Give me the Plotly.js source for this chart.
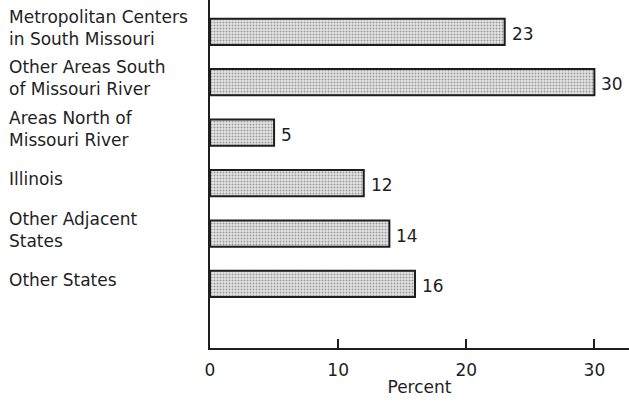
<!DOCTYPE html>
<html>
<head>
<meta charset="utf-8">
<script src="https://cdn.plot.ly/plotly-3.0.1.min.js"></script>
<style>html,body{margin:0;padding:0;background:#fff}#chart{width:629px;height:402px}</style>
</head>
<body>
<div id="chart"></div>
<script>
const categories = [
  "Metropolitan Centers<br>in South Missouri",
  "Other Areas South<br>of Missouri River",
  "Areas North of<br>Missouri River",
  "Illinois",
  "Other Adjacent<br>States",
  "Other States"
];
const values = [23, 30, 5, 12, 14, 16];
const tickValues = [0, 10, 20, 30];
const tickLabels = ["0", "10", "20", "30"];
const xTitle = "Percent";

const FONT = "'DejaVu Sans', sans-serif";
const INK = "#1e1e1e";

const trace = {
  type: "bar",
  orientation: "h",
  x: values,
  y: categories,
  width: 0.52,
  marker: {
    color: "#dcdcdc",
    line: {color: INK, width: 2},
    pattern: {shape: ".", size: 3, solidity: 0.35, fgcolor: "#9a9a9a", bgcolor: "#e6e6e6"}
  },
  hoverinfo: "skip"
};

const annotations = [];
categories.forEach((c, i) => {
  annotations.push({
    xref: "paper", yref: "y", x: -203/419, y: c,
    text: c, showarrow: false, xanchor: "left", yanchor: "middle", align: "left",
    yshift: 4, font: {family: FONT, size: 17, color: INK}
  });
  annotations.push({
    xref: "x", yref: "y", x: values[i], y: c,
    text: String(values[i]), showarrow: false, xanchor: "left", yanchor: "middle",
    xshift: 5, yshift: -2, font: {family: FONT, size: 17, color: INK}
  });
});

const layout = {
  width: 629, height: 402,
  margin: {l: 210, r: 0, t: 0, b: 54},
  paper_bgcolor: "#fff", plot_bgcolor: "#fff",
  showlegend: false,
  xaxis: {
    range: [0, 32.7],
    tickvals: tickValues, ticktext: tickLabels,
    ticks: "inside", ticklen: 9, tickwidth: 2, tickcolor: INK,
    showline: true, linecolor: INK, linewidth: 2,
    showgrid: false, zeroline: false,
    tickfont: {family: FONT, size: 17, color: INK},
    ticklabelstandoff: 6,
    title: {text: xTitle, font: {family: FONT, size: 17, color: INK}, standoff: 2},
    fixedrange: true
  },
  yaxis: {
    type: "category",
    range: [categories.length - 1 + 1.27, -0.63],
    showticklabels: false, ticks: "",
    showline: true, linecolor: INK, linewidth: 2,
    showgrid: false, zeroline: false,
    fixedrange: true
  },
  annotations: annotations
};

Plotly.newPlot("chart", [trace], layout, {displayModeBar: false, staticPlot: true});
</script>
</body>
</html>
